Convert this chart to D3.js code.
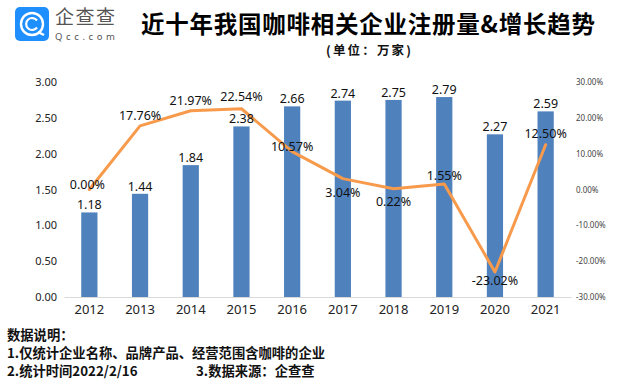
<!DOCTYPE html>
<html lang="zh">
<head>
<meta charset="UTF-8">
<title>近十年我国咖啡相关企业注册量&amp;增长趋势</title>
<script src="https://d3js.org/d3.v7.min.js"></script>
<style>
  html, body { margin: 0; padding: 0; background: #fff; }
  svg { display: block; }
  text { font-family: "Noto Sans", "Noto Sans CJK SC", sans-serif; }
</style>
</head>
<body>
<svg id="chart" width="631" height="384"></svg>
<script>
// data
const years = ["2012","2013","2014","2015","2016","2017","2018","2019","2020","2021"];
const counts = [1.18,1.44,1.84,2.38,2.66,2.74,2.75,2.79,2.27,2.59];
const growth = [0,17.76,21.97,22.54,10.57,3.04,0.22,1.55,-23.02,12.50];
const leftTicks = [0,0.5,1,1.5,2,2.5,3];
const rightTicks = [-30,-20,-10,0,10,20,30];
const notes = ["数据说明：","1.仅统计企业名称、品牌产品、经营范围含咖啡的企业","2.统计时间2022/2/16"];

const svg = d3.select("#chart");
const cjk = '"Noto Sans CJK SC", sans-serif';

const x = d3.scaleBand().domain(years).range([64, 571]).paddingInner(0.68).paddingOuter(0.34);
const y = d3.scaleLinear().domain([0, 3]).range([297, 82]);
const yr = d3.scaleLinear().domain([-30, 30]).range([297, 82]);
const cx = d => x(d) + x.bandwidth() / 2;

// logo
const logo = svg.append("g");
logo.append("rect").attr("x", 15).attr("y", 7).attr("width", 34).attr("height", 34).attr("rx", 5).attr("fill", "#1f8fff");
logo.append("circle").attr("cx", 32).attr("cy", 24).attr("r", 11).attr("fill", "none").attr("stroke", "#fff").attr("stroke-width", 2.4);
logo.append("path").attr("d", "M37 20.5a6 6 0 1 0 0 7").attr("fill", "none").attr("stroke", "#fff").attr("stroke-width", 2.2);
logo.append("path").attr("d", "M38 32l6 3").attr("stroke", "#fff").attr("stroke-width", 2.4);
logo.append("text").attr("x", 55).attr("y", 24).attr("font-size", 19).attr("fill", "#555")
  .style("font-family", cjk).attr("textLength", 60).text("企查查");
logo.append("text").attr("x", 55).attr("y", 39.5).attr("font-size", 9.5).attr("fill", "#555")
  .attr("textLength", 60).text("Qcc.com");

// title
svg.append("text").attr("x", 141).attr("y", 33).attr("font-size", 23.5).attr("font-weight", 700)
  .attr("fill", "#000").style("font-family", cjk).attr("textLength", 454)
  .text("近十年我国咖啡相关企业注册量&增长趋势");
svg.append("text").attr("x", 326).attr("y", 54.5).attr("font-size", 12.5).attr("font-weight", 700)
  .attr("fill", "#111").style("font-family", cjk).attr("textLength", 85).text("(单位：万家)");

// bars
svg.selectAll("rect.bar").data(years).join("rect").attr("class", "bar")
  .attr("x", d => x(d)).attr("width", x.bandwidth())
  .attr("y", (d, i) => y(counts[i]))
  .attr("height", (d, i) => y(0) - y(counts[i]))
  .attr("fill", "#4f81bd");

// axes
const axisLeft = svg.append("g").attr("transform", "translate(64,0)")
  .call(d3.axisLeft(y).tickValues(leftTicks).tickFormat(d3.format(".2f")).tickSize(0).tickPadding(7));
axisLeft.select(".domain").remove();
axisLeft.selectAll("text").attr("font-size", 11).attr("fill", "#222");

const axisRight = svg.append("g").attr("transform", "translate(571,0)")
  .call(d3.axisRight(yr).tickValues(rightTicks).tickFormat(d => d.toFixed(2) + "%").tickSize(0).tickPadding(5));
axisRight.select(".domain").remove();
axisRight.selectAll("text").attr("font-size", 8).attr("fill", "#444");

const axisBottom = svg.append("g").attr("transform", "translate(0,297)")
  .call(d3.axisBottom(x).tickSize(0).tickPadding(8));
axisBottom.select(".domain").attr("stroke", "#d9d9d9").attr("stroke-width", 1);
axisBottom.selectAll("text").attr("font-size", 13).attr("fill", "#222");

// growth line
const line = d3.line().x((d, i) => cx(years[i])).y(d => yr(d));
svg.append("path").datum(growth).attr("d", line).attr("fill", "none")
  .attr("stroke", "#f79a4b").attr("stroke-width", 3).attr("stroke-linejoin", "round").attr("stroke-linecap", "round");

// bar labels sit on top of each bar
svg.selectAll("text.count").data(years).join("text").attr("class", "count")
  .attr("x", d => cx(d)).attr("y", (d, i) => y(counts[i]) - 3)
  .attr("text-anchor", "middle").attr("font-size", 12.5).attr("fill", "#111")
  .text((d, i) => counts[i].toFixed(2));

// growth labels, shifted by hand so they clear the line like the original
const nudge = [[-2,-1],[0,-6],[0,-6],[0,-8],[0,-1],[0,18],[0,17],[0,-4],[0,13],[0,-7]];
svg.selectAll("text.growth").data(years).join("text").attr("class", "growth")
  .attr("x", (d, i) => cx(d) + nudge[i][0]).attr("y", (d, i) => yr(growth[i]) + nudge[i][1])
  .attr("text-anchor", "middle").attr("font-size", 12.5).attr("fill", "#111")
  .text((d, i) => growth[i].toFixed(2) + "%");

// footnotes
svg.selectAll("text.note").data(notes).join("text").attr("class", "note")
  .attr("x", 7).attr("y", (d, i) => 340 + i * 18)
  .attr("font-size", 13.3).attr("font-weight", 700).attr("fill", "#111")
  .style("font-family", cjk).text(d => d);
svg.append("text").attr("x", 196).attr("y", 376).attr("font-size", 13.3).attr("font-weight", 700)
  .attr("fill", "#111").style("font-family", cjk).text("3.数据来源：企查查");
</script>
</body>
</html>
